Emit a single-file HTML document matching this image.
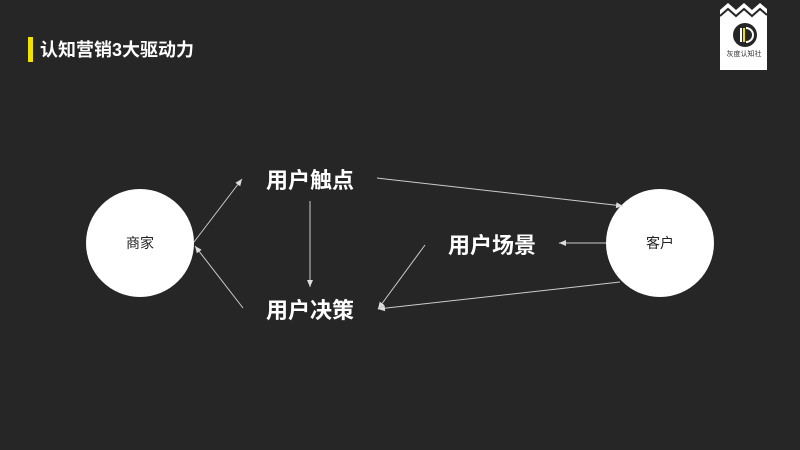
<!DOCTYPE html>
<html><head><meta charset="utf-8"><style>
body{margin:0;width:800px;height:450px;background:#262626;overflow:hidden;font-family:"Liberation Sans","Noto Sans CJK SC",sans-serif;}
</style></head><body>
<svg width="800" height="450" viewBox="0 0 800 450" xmlns="http://www.w3.org/2000/svg" style="position:absolute;left:0;top:0">
<defs><marker id="a" markerWidth="8" markerHeight="8" refX="7" refY="4" orient="auto" markerUnits="userSpaceOnUse"><path d="M0,1 L7,4 L0,7 Z" fill="#ddd"/></marker></defs>
<rect x="28" y="37" width="5" height="25" fill="#f2e200"/>
<text x="40" y="56" font-size="18" font-weight="bold" fill="#fff">认知营销3大驱动力</text>
<rect x="720" y="0" width="47" height="70" fill="#fff"/>
<path d="M720,10 L728,3 L736,10 L744,3 L752,10 L760,3 L767,9 L767,0 L720,0Z" fill="#262626"/>
<path d="M720,16 L728,9 L736,16 L744,9 L752,16 L760,9 L767,15" stroke="#262626" stroke-width="2" fill="none"/>
<circle cx="745" cy="35" r="12" fill="#262626"/>
<rect x="740" y="28" width="2" height="14" fill="#fff"/><rect x="743" y="28" width="2" height="14" fill="#f2e200"/>
<path d="M746,28 A7,7 0 0 1 746,42" stroke="#fff" stroke-width="2" fill="none"/>
<text x="744" y="56" font-size="7" fill="#333" text-anchor="middle">灰度认知社</text>
<circle cx="140" cy="243" r="54" fill="#fff"/>
<circle cx="660" cy="243" r="54" fill="#fff"/>
<text x="140" y="248" font-size="14" fill="#222" text-anchor="middle">商家</text>
<text x="660" y="248" font-size="14" fill="#222" text-anchor="middle">客户</text>
<g font-size="22" font-weight="bold" fill="#fff" text-anchor="middle">
<text x="310" y="188">用户触点</text>
<text x="492" y="253">用户场景</text>
<text x="310" y="318">用户决策</text>
</g>
<g stroke="#ccc" stroke-width="1" marker-end="url(#a)">
<line x1="194" y1="242" x2="242" y2="179"/>
<line x1="243" y1="308" x2="195" y2="246"/>
<line x1="377" y1="178" x2="623" y2="206"/>
<line x1="310" y1="201" x2="310" y2="287"/>
<line x1="606" y1="243" x2="559" y2="243"/>
<line x1="425" y1="245" x2="378" y2="309"/>
<line x1="620" y1="282" x2="378" y2="309"/>
</g>
</svg>
</body></html>
